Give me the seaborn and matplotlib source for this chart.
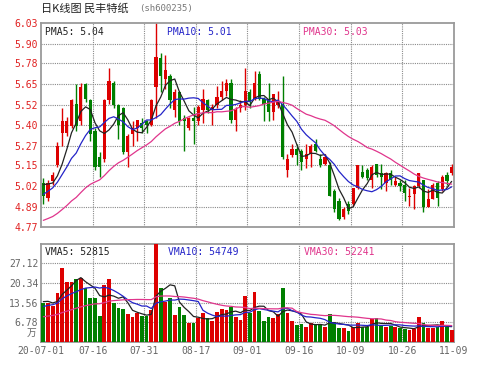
import matplotlib
matplotlib.use("Agg")
import matplotlib.pyplot as plt
import seaborn as sns
import numpy as np
import pandas as pd

# daily K line, 2020-07-01 .. 2020-11-09 (88 trading days)
opens = [5.04, 4.95, 5.05, 5.15, 5.35, 5.35, 5.39, 5.53, 5.42, 5.65,
         5.55, 5.36, 5.20, 5.19, 5.55, 5.66, 5.52, 5.50, 5.23, 5.34,
         5.38, 5.41, 5.42, 5.40, 5.63, 5.81, 5.68, 5.70, 5.49, 5.60,
         5.44, 5.38, 5.44, 5.42, 5.49, 5.55, 5.49, 5.52, 5.57, 5.61,
         5.66, 5.43, 5.50, 5.52, 5.60, 5.56, 5.71, 5.56, 5.56, 5.48,
         5.52, 5.53, 5.12, 5.21, 5.25, 5.24, 5.19, 5.22, 5.28, 5.19,
         5.16, 5.15, 4.99, 4.93, 4.83, 4.91, 4.91, 5.01, 5.11, 5.12,
         5.06, 5.16, 5.10, 5.04, 5.10, 5.03, 5.04, 5.03, 4.955, 4.97,
         5.02, 5.06, 4.89, 4.94, 5.04, 5.00, 5.09, 5.10]
closes = [4.96, 5.04, 5.09, 5.27, 5.42, 5.42, 5.55, 5.39, 5.63, 5.56,
          5.34, 5.14, 5.14, 5.55, 5.67, 5.52, 5.40, 5.23, 5.33, 5.38,
          5.43, 5.38, 5.40, 5.55, 5.82, 5.70, 5.74, 5.55, 5.60, 5.42,
          5.42, 5.44, 5.42, 5.51, 5.56, 5.49, 5.51, 5.57, 5.61, 5.66,
          5.43, 5.49, 5.52, 5.61, 5.54, 5.66, 5.56, 5.53, 5.48, 5.59,
          5.54, 5.20, 5.19, 5.25, 5.21, 5.17, 5.22, 5.27, 5.24, 5.15,
          5.20, 4.96, 4.88, 4.82, 4.88, 4.87, 5.01, 5.15, 5.08, 5.07,
          5.14, 5.09, 5.08, 5.10, 5.06, 5.05, 5.02, 4.98, 4.96, 5.02,
          5.10, 4.89, 4.94, 5.03, 4.95, 5.08, 5.05, 5.14]
highs = [5.07, 5.06, 5.11, 5.29, 5.50, 5.45, 5.56, 5.65, 5.66, 5.66,
         5.56, 5.38, 5.23, 5.56, 5.75, 5.67, 5.53, 5.51, 5.34, 5.42,
         5.43, 5.44, 5.43, 5.56, 6.10, 5.84, 5.83, 5.71, 5.62, 5.61,
         5.46, 5.45, 5.51, 5.52, 5.62, 5.56, 5.53, 5.64, 5.67, 5.68,
         5.68, 5.51, 5.55, 5.75, 5.62, 5.73, 5.73, 5.57, 5.66, 5.59,
         5.61, 5.70, 5.22, 5.28, 5.28, 5.25, 5.28, 5.28, 5.31, 5.22,
         5.22, 5.17, 5.00, 4.95, 4.89, 4.93, 5.01, 5.15, 5.15, 5.13,
         5.15, 5.16, 5.16, 5.11, 5.12, 5.08, 5.06, 5.06, 5.01, 5.03,
         5.10, 5.06, 5.00, 5.04, 5.05, 5.09, 5.11, 5.16]
lows = [4.91, 4.93, 5.03, 5.14, 5.27, 5.33, 5.38, 5.36, 5.40, 5.54,
        5.30, 5.12, 5.08, 5.17, 5.53, 5.50, 5.31, 5.22, 5.14, 5.27,
        5.30, 5.35, 5.35, 5.39, 5.44, 5.60, 5.62, 5.50, 5.45, 5.40,
        5.24, 5.37, 5.28, 5.40, 5.41, 5.47, 5.40, 5.50, 5.55, 5.58,
        5.41, 5.36, 5.48, 5.49, 5.50, 5.55, 5.55, 5.42, 5.42, 5.43,
        5.50, 5.19, 5.08, 5.20, 5.15, 5.12, 5.13, 5.14, 5.23, 5.14,
        5.15, 4.96, 4.86, 4.81, 4.82, 4.85, 4.90, 5.00, 5.07, 5.06,
        5.01, 5.08, 5.00, 4.99, 5.03, 5.02, 4.99, 4.93, 4.90, 4.88,
        5.01, 4.86, 4.89, 4.94, 4.90, 4.99, 5.03, 5.09]
# volume in 万手
volumes = [13.5, 13.3, 12.4, 17.0, 25.6, 20.8, 20.8, 21.7, 21.9, 18.5,
           15.3, 15.3, 8.9, 19.6, 21.7, 13.5, 11.6, 11.2, 9.6, 8.7,
           10.1, 8.9, 8.9, 11.0, 40.0, 18.5, 13.9, 15.0, 9.3, 12.1,
           9.3, 6.6, 6.6, 8.1, 9.9, 8.4, 7.2, 10.2, 11.4, 11.0,
           12.0, 8.5, 7.5, 16.0, 10.1, 17.3, 10.8, 7.3, 8.5, 8.1,
           9.6, 18.7, 10.1, 7.2, 5.8, 6.2, 5.3, 6.4, 6.1, 6.2,
           5.0, 9.6, 6.4, 4.7, 4.7, 3.9, 5.0, 6.7, 5.3, 5.3,
           7.8, 8.1, 5.5, 5.0, 5.5, 5.0, 4.7, 4.5, 4.2, 4.4,
           8.6, 6.4, 4.7, 4.8, 5.0, 7.2, 5.2, 4.2]

# late June closes / volumes, only used to seed the moving averages
pre_close = [4.70, 4.72, 4.69, 4.71, 4.68, 4.70, 4.73, 4.72, 4.70, 4.69,
             4.71, 4.74, 4.76, 4.75, 4.73, 4.74, 4.77, 4.76, 4.78, 4.80,
             4.85, 4.88, 4.92, 4.95, 4.95, 5.02, 5.06, 5.05, 5.06]
pre_volume = [6.2, 5.8, 6.5, 7.1, 6.0, 5.5, 6.8, 7.4, 6.3, 5.9,
              6.6, 7.2, 7.8, 6.9, 7.5, 8.1, 7.0, 7.6, 8.3, 8.5,
              9.2, 10.1, 11.5, 10.8, 10.9, 12.8, 15.2, 14.5, 13.5]

price_ticks = [4.77, 4.89, 5.02, 5.15, 5.27, 5.40, 5.52, 5.65, 5.78, 5.90, 6.03]
vol_ticks = [6.78, 13.56, 20.34, 27.12]
date_labels = ["20-07-01", "07-16", "07-31", "08-17", "09-01",
               "09-16", "10-09", "10-26", "11-09"]
pma_text = ["PMA5: 5.04", "PMA10: 5.01", "PMA30: 5.03"]
vma_text = ["VMA5: 52815", "VMA10: 54749", "VMA30: 52241"]

RED = "#dd0000"
GREEN = "#007f00"
MA_COLORS = ["#222222", "#2424c8", "#e0358c"]
MONO = "DejaVu Sans Mono"

sns.set_theme(style="white")
plt.rcParams["font.family"] = ["Noto Sans CJK SC", "DejaVu Sans"]

n = len(closes)
idx = np.arange(n)
o = np.array(opens)
c = np.array(closes)
up = c >= o
colors = np.where(up, RED, GREEN)

close_all = pd.Series(pre_close + closes)
vol_all = pd.Series(pre_volume + volumes)
k = len(pre_close)

fig = plt.figure(figsize=(5, 3.69), dpi=100)
ax = fig.add_axes([0.082, 0.3856, 0.826, 0.553])
axv = fig.add_axes([0.082, 0.0732, 0.826, 0.2668])

# candles
ax.vlines(idx, lows, highs, colors=colors, lw=1.0, zorder=2)
body = np.where(np.abs(c - o) < 0.006, 0.006, c - o)
ax.bar(idx, body, bottom=o, width=0.68, color=colors, linewidth=0, zorder=3)

for w, col in zip([5, 10, 30], MA_COLORS):
    ma = close_all.rolling(w).mean().iloc[k:].to_numpy()
    sns.lineplot(x=idx, y=ma, ax=ax, color=col, lw=0.9, zorder=4)
    vma = vol_all.rolling(w).mean().iloc[k:].to_numpy()
    sns.lineplot(x=idx, y=vma, ax=axv, color=col, lw=0.9, zorder=4)

axv.bar(idx, volumes, width=0.8, color=colors, linewidth=0, zorder=3)

grid_x = [-0.5 + 11 * j for j in range(1, 8)]
tick_x = [-0.5 + 11 * j for j in range(9)]

for a in (ax, axv):
    a.set_xlim(-0.5, n - 0.5)
    for gx in grid_x:
        a.axvline(gx, color="#8a8a8a", ls=(0, (1, 1)), lw=0.8, zorder=1)
    for s in a.spines.values():
        s.set_color("#9a9a9a")
        s.set_linewidth(1.3)
    a.tick_params(length=0, pad=2)

ax.set_ylim(4.77, 6.03)
ax.set_yticks(price_ticks)
ax.set_yticklabels([f"{v:.2f}" for v in price_ticks], color="#e02020",
                   fontfamily=MONO, fontsize=7)
ax.set_xticks([])
for v in price_ticks[1:-1]:
    ax.axhline(v, color="#8a8a8a", ls=(0, (1, 1)), lw=0.8, zorder=1)

axv.set_ylim(0, 33.9)
axv.set_yticks(vol_ticks)
axv.set_yticklabels([f"{v:.2f}" for v in vol_ticks], color="#666666",
                    fontfamily=MONO, fontsize=7)
for v in vol_ticks:
    axv.axhline(v, color="#8a8a8a", ls=(0, (1, 1)), lw=0.8, zorder=1)
axv.set_xticks(tick_x)
axv.set_xticklabels(date_labels, color="#666666", fontfamily=MONO, fontsize=7)
axv.tick_params(axis="x", pad=3)
axv.text(-0.012, 0.09, "万", transform=axv.transAxes, ha="right", va="center",
         fontsize=7, color="#666666")

for xpos, t, col in zip([0.01, 0.305, 0.634], pma_text, MA_COLORS):
    ax.text(xpos, 0.955, t, transform=ax.transAxes, va="center", ha="left",
            fontfamily=MONO, fontsize=7, color=col, zorder=6)
for xpos, t, col in zip([0.01, 0.308, 0.637], vma_text, MA_COLORS):
    axv.text(xpos, 0.915, t, transform=axv.transAxes, va="center", ha="left",
             fontfamily=MONO, fontsize=7, color=col, zorder=6)

fig.text(0.082, 0.978, "日K线图 民丰特纸", fontsize=8, color="#222222",
         va="center", ha="left")
fig.text(0.278, 0.978, "(sh600235)", fontsize=6.5, fontfamily=MONO,
         color="#777777", va="center", ha="left")

fig.savefig("out.png", dpi=100)
